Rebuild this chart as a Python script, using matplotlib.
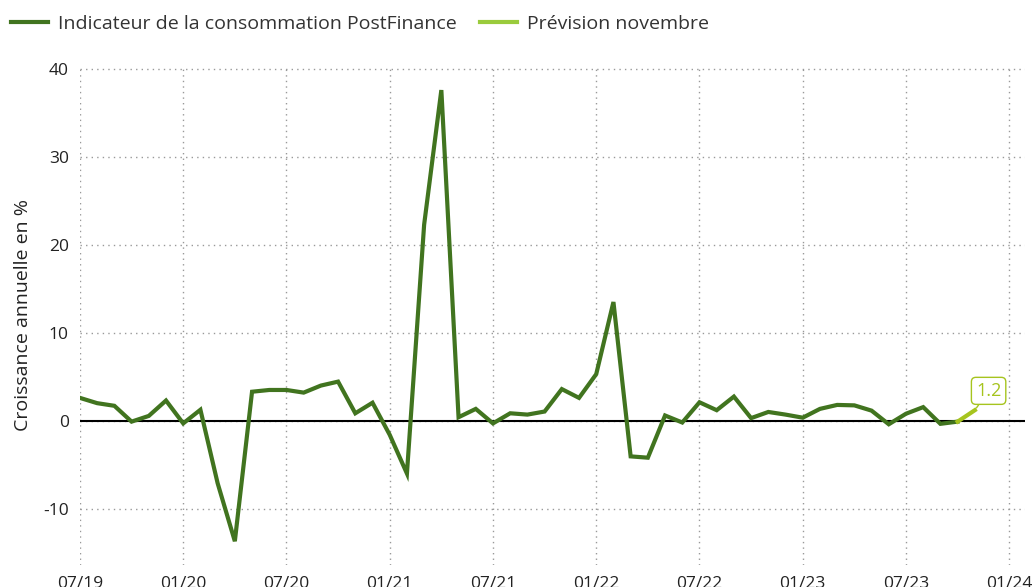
import numpy as np
import matplotlib
matplotlib.use('Agg')
from matplotlib import pyplot as plt

plt.rcParams['font.family'] = ['Open Sans', 'DejaVu Sans']
plt.rcParams['axes.unicode_minus'] = False

# monthly values from 07/2019 to 10/2023, then forecast for 11/2023
values = [2.6, 2.0, 1.7, -0.1, 0.55, 2.3, -0.3, 1.25, -7.1, -13.7,
          3.3, 3.5, 3.5, 3.2, 4.0, 4.45, 0.85, 2.05, -1.6, -6.0,
          22.3, 37.6, 0.4, 1.35, -0.3, 0.85, 0.7, 1.05, 3.6, 2.6,
          5.3, 13.5, -4.05, -4.2, 0.6, -0.2, 2.1, 1.2, 2.75, 0.3,
          1.0, 0.7, 0.35, 1.35, 1.8, 1.75, 1.15, -0.4, 0.8, 1.55,
          -0.35, -0.1]
forecast = 1.2
forecast_label = '1.2'

tick_labels = ['07/19', '01/20', '07/20', '01/21', '07/21', '01/22',
               '07/22', '01/23', '07/23', '01/24']
y_ticks = [-10, 0, 10, 20, 30, 40]

dark_green = '#41741f'
light_green = '#a6c41e'

months = np.arange(len(values))

fig = plt.figure(figsize=(10.33, 5.87), dpi=100)
ax = fig.add_axes([0.0774, 0.0375, 0.9146, 0.8525])

ax.axhline(0, color='black', lw=1.5, zorder=2)
ax.plot(months, values, color=dark_green, lw=3, solid_joinstyle='miter', zorder=3,
        label='Indicateur de la consommation PostFinance')
ax.plot([months[-1], months[-1] + 1], [values[-1], forecast], color=light_green, lw=3,
        zorder=3, label='Prévision novembre')
ax.annotate(forecast_label, xy=(months[-1] + 1, forecast), xytext=(months[-1] + 1.8, 3.4),
            ha='center', va='center', fontsize=13, color=light_green,
            bbox=dict(boxstyle='round,pad=0.25', fc='white', ec=light_green, lw=1),
            arrowprops=dict(arrowstyle='-', color=light_green, lw=1, shrinkA=0, shrinkB=2))

ax.set_xlim(0, 54.9)
ax.set_ylim(-16.4, 40.5)
ax.set_xticks(np.arange(len(tick_labels)) * 6)
ax.set_xticklabels(tick_labels)
ax.set_yticks(y_ticks)
ax.grid(True, linestyle=(0, (1, 3)), color='#999999', lw=1)
ax.tick_params(length=0, labelsize=12.5, colors='#222222', pad=8)
for s in ax.spines.values():
    s.set_visible(False)
ax.set_ylabel('Croissance annuelle en %', fontsize=14, color='#222222', labelpad=8)

leg = fig.legend(loc='upper left', bbox_to_anchor=(-0.006, 1.005), ncol=2, frameon=False,
                 fontsize=14, handlelength=1.9, handletextpad=0.5, columnspacing=1.2)
for t in leg.get_texts():
    t.set_color('#333333')
leg.legend_handles[1].set_color('#9acb3c')

fig.savefig('out.png', dpi=100)
